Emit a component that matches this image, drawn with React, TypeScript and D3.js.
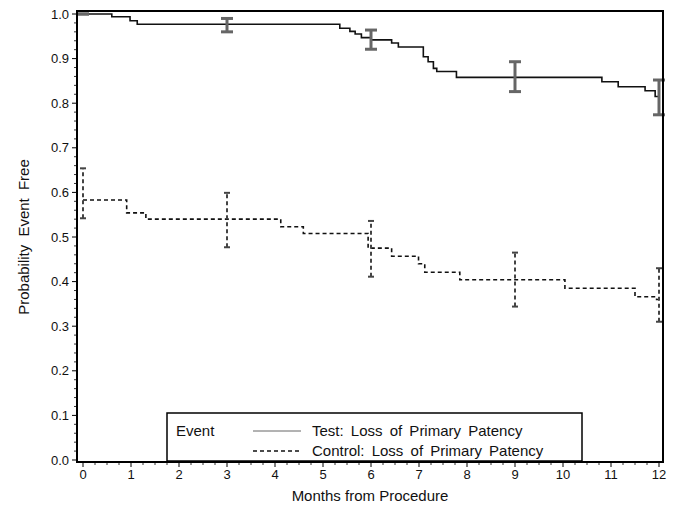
import React from 'react';
import * as d3 from 'd3';

// Kaplan-Meier estimates
const testTimes = [0, 0.6, 0.98, 1.13, 5.35, 5.56, 5.67, 5.8, 6.0, 6.43, 6.57, 7.09, 7.19, 7.3, 7.37, 7.78, 10.81, 11.15, 11.71, 11.92, 12];
const testSurv = [1.0, 0.994, 0.985, 0.977, 0.968, 0.961, 0.955, 0.947, 0.942, 0.935, 0.926, 0.904, 0.893, 0.878, 0.871, 0.858, 0.848, 0.837, 0.828, 0.815, 0.815];

const controlTimes = [0, 0.91, 1.31, 4.12, 4.59, 5.94, 6.43, 6.99, 7.12, 7.85, 10.04, 11.5, 11.95, 12];
const controlSurv = [0.583, 0.554, 0.54, 0.523, 0.508, 0.475, 0.457, 0.44, 0.421, 0.404, 0.385, 0.366, 0.36, 0.36];

// confidence limits at 0, 3, 6, 9, 12 months
const ciMonths = [0, 3, 6, 9, 12];
const testLower = [1.0, 0.96, 0.921, 0.826, 0.774];
const testUpper = [1.0, 0.99, 0.964, 0.893, 0.852];
const controlLower = [0.542, 0.477, 0.411, 0.344, 0.31];
const controlUpper = [0.654, 0.599, 0.536, 0.465, 0.43];

const xTicks = d3.range(0, 13);
const yTicks = d3.range(0, 11).map(i => i / 10);

const W = 674;
const H = 509;
const FONT = '"Liberation Sans", Arial, Helvetica, sans-serif';

export default function App() {
  const x = d3.scaleLinear().domain([0, 12]).range([83, 659]);
  const y = d3.scaleLinear().domain([0, 1]).range([460, 14]);

  const frame = { left: 77, right: 663, top: 11, bottom: 462 };

  const step = d3.line<[number, number]>()
    .x(d => x(d[0]))
    .y(d => y(d[1]))
    .curve(d3.curveStepAfter);

  const testPath = step(testTimes.map((t, i) => [t, testSurv[i]]));
  const controlPath = step(controlTimes.map((t, i) => [t, controlSurv[i]]));

  const xMinor = d3.range(0, 12.001, 0.25).filter(v => Math.abs(v - Math.round(v)) > 1e-6);
  const yMinor = d3.range(0, 1.0001, 0.02).filter(v => Math.abs(v * 10 - Math.round(v * 10)) > 1e-6);

  const legend = { left: 167, right: 582, top: 413, bottom: 461 };

  return (
    <svg width={W} height={H} style={{ position: 'absolute', left: 0, top: 0, background: '#fff' }}
      fontFamily={FONT}>
      <rect x={0} y={0} width={W} height={H} fill="#fff" />

      {/* y axis ticks */}
      {yTicks.map(v => (
        <g key={'yt' + v}>
          <line x1={frame.left - 5} x2={frame.left} y1={y(v)} y2={y(v)} stroke="#000" strokeWidth={1} />
          <text x={frame.left - 8} y={y(v)} dy="0.35em" textAnchor="end" fontSize={13} fill="#111">
            {d3.format('.1f')(v)}
          </text>
        </g>
      ))}
      {yMinor.map(v => (
        <line key={'ym' + v} x1={frame.left - 3} x2={frame.left} y1={y(v)} y2={y(v)} stroke="#000" strokeWidth={0.8} />
      ))}

      {/* x axis ticks */}
      {xTicks.map(v => (
        <g key={'xt' + v}>
          <line x1={x(v)} x2={x(v)} y1={frame.bottom} y2={frame.bottom + 5} stroke="#000" strokeWidth={1} />
          <text x={x(v)} y={frame.bottom + 17} textAnchor="middle" fontSize={13} fill="#111">{v}</text>
        </g>
      ))}
      {xMinor.map(v => (
        <line key={'xm' + v} x1={x(v)} x2={x(v)} y1={frame.bottom} y2={frame.bottom + 3} stroke="#000" strokeWidth={0.8} />
      ))}

      {/* axis titles */}
      <text x={(frame.left + frame.right) / 2} y={501} textAnchor="middle" fontSize={15} fill="#111">
        Months from Procedure
      </text>
      <text transform={`translate(29, ${y(0.5)}) rotate(-90)`} textAnchor="middle" fontSize={15} fill="#111"
        wordSpacing={4}>
        Probability Event Free
      </text>

      {/* survival curves */}
      <path d={testPath ?? ''} fill="none" stroke="#111" strokeWidth={1.6} />
      <path d={controlPath ?? ''} fill="none" stroke="#111" strokeWidth={1.6} strokeDasharray="4,3" />

      {/* test confidence bars */}
      {ciMonths.map((m, i) => (
        <g key={'tci' + m} stroke="#666" strokeWidth={3}>
          <line x1={x(m)} x2={x(m)} y1={y(testLower[i])} y2={y(testUpper[i])} />
          <line x1={x(m) - 6} x2={x(m) + 6} y1={y(testLower[i])} y2={y(testLower[i])} />
          <line x1={x(m) - 6} x2={x(m) + 6} y1={y(testUpper[i])} y2={y(testUpper[i])} />
        </g>
      ))}

      {/* control confidence bars */}
      {ciMonths.map((m, i) => (
        <g key={'cci' + m} stroke="#444" strokeWidth={2}>
          <line x1={x(m)} x2={x(m)} y1={y(controlLower[i])} y2={y(controlUpper[i])} strokeDasharray="4,3" />
          <line x1={x(m) - 3} x2={x(m) + 3} y1={y(controlLower[i])} y2={y(controlLower[i])} />
          <line x1={x(m) - 3} x2={x(m) + 3} y1={y(controlUpper[i])} y2={y(controlUpper[i])} />
        </g>
      ))}

      {/* legend */}
      <rect x={legend.left} y={legend.top} width={legend.right - legend.left} height={legend.bottom - legend.top}
        fill="#fff" stroke="#000" strokeWidth={1.5} />
      <text x={176} y={436} fontSize={15} fill="#111">Event</text>
      <line x1={253} x2={301} y1={431} y2={431} stroke="#666" strokeWidth={1} />
      <text x={312} y={436} fontSize={15} fill="#111" wordSpacing={3}>Test: Loss of Primary Patency</text>
      <line x1={253} x2={301} y1={451} y2={451} stroke="#111" strokeWidth={1.6} strokeDasharray="4,3" />
      <text x={312} y={456} fontSize={15} fill="#111" wordSpacing={3}>Control: Loss of Primary Patency</text>

      {/* frame */}
      <rect x={frame.left} y={frame.top} width={frame.right - frame.left} height={frame.bottom - frame.top}
        fill="none" stroke="#000" strokeWidth={2} />
    </svg>
  );
}
